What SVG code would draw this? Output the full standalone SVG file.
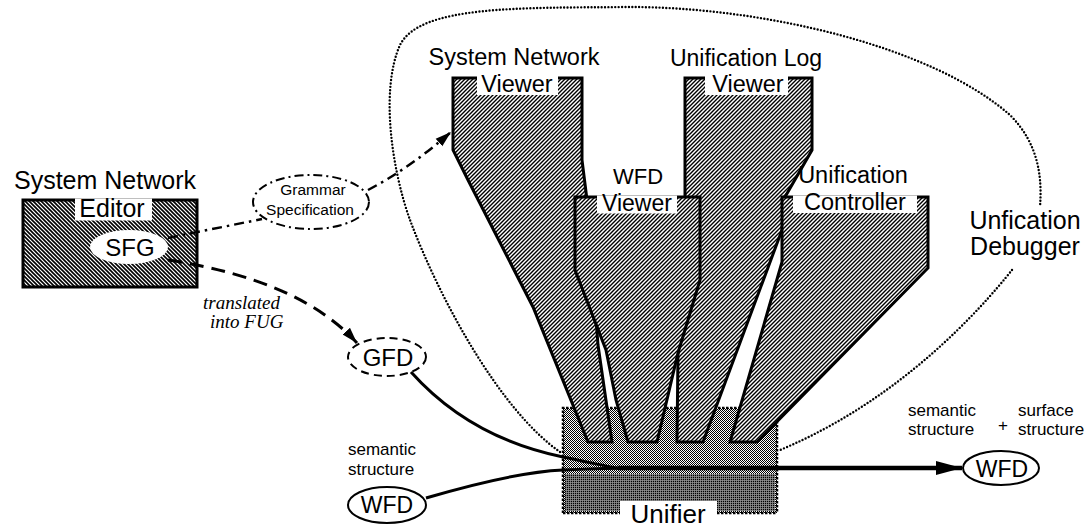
<svg xmlns="http://www.w3.org/2000/svg" width="1090" height="527" viewBox="0 0 1090 527">
<defs>
<style>
.t{font-family:"Liberation Sans",Arial,sans-serif;fill:#000;text-anchor:middle}
.s{font-family:"Liberation Sans",Arial,sans-serif;fill:#000;font-size:17px}
.it{font-family:"Liberation Serif","Times New Roman",serif;font-style:italic;font-size:19px;fill:#000}
.funnel{fill:url(#hatchR);stroke:#000;stroke-width:3;stroke-linejoin:miter}
.lbl{fill:#fff;stroke:none}
.ell{fill:#fff;stroke:#000;stroke-width:2}
</style>
<pattern id="hatchR" width="4" height="4" patternUnits="userSpaceOnUse">
<rect width="4" height="4" fill="#fff"/>
<path d="M0,4 L4,0 M-1,1 L1,-1 M3,5 L5,3" stroke="#000" stroke-width="1.4"/>
</pattern>
<pattern id="hatchL" width="4" height="4" patternUnits="userSpaceOnUse">
<rect width="4" height="4" fill="#fff"/>
<path d="M0,0 L4,4 M-1,3 L1,5 M3,-1 L5,1" stroke="#000" stroke-width="1.6"/>
</pattern>
<pattern id="stipple" width="2" height="2" patternUnits="userSpaceOnUse">
<rect width="2" height="2" fill="#fff"/>
<rect width="1" height="1" fill="#000"/>
<rect x="1" y="1" width="1" height="1" fill="#000"/>
</pattern>
<pattern id="stippleDark" width="2" height="2" patternUnits="userSpaceOnUse">
<rect width="2" height="2" fill="#000"/>
<rect width="1" height="1" fill="#fff"/>
</pattern>
<marker id="arrowBig" markerUnits="userSpaceOnUse" markerWidth="28" markerHeight="16" refX="26" refY="8" orient="auto">
<path d="M0,1 L26,8 L0,15 Z" fill="#000"/>
</marker>
<marker id="arrowSmall" markerUnits="userSpaceOnUse" markerWidth="18" markerHeight="12" refX="16" refY="6" orient="auto">
<path d="M0,1 L16,6 L0,11 Z" fill="#000"/>
</marker>
</defs>
<rect width="1090" height="527" fill="#fff"/>

<g id="debugger-boundary">
<path d="M560,452 C500,410 440,300 410,220 C392,170 380,90 400,45 C420,5 520,8 630,7 C760,7 930,45 1010,115 C1040,145 1042,180 1040,207" fill="none" stroke="#000" stroke-width="2.4" stroke-linecap="round" stroke-dasharray="0 3.4"/>
<path d="M1012,270 C980,310 900,400 780,450" fill="none" stroke="#000" stroke-width="2.4" stroke-linecap="round" stroke-dasharray="0 3.4"/>
<text class="t" x="1025" y="229" font-size="25">Unfication</text>
<text class="t" x="1025" y="255" font-size="25">Debugger</text>
</g>

<g id="unifier">
<rect x="563" y="408" width="214" height="105" fill="url(#stipple)"/>
<rect x="565" y="474" width="210" height="37" fill="url(#stippleDark)" opacity="0.55"/>
<rect x="620" y="501" width="97" height="26" fill="#fff"/>
<path d="M563,513 L563,408 L777,408 L777,513 M563,513 L620,513 M717,513 L777,513" fill="none" stroke="#000" stroke-width="2.5" stroke-dasharray="2.5 1.5"/>
<text class="t" x="668" y="523" font-size="26">Unifier</text>
</g>

<g id="system-network-viewer">
<polygon class="funnel" points="453,78 582,78 582,160 587,200 598,345 612,442 588,442 533,307 468,180 453,150"/>
<rect class="lbl" x="477" y="76" width="81" height="19"/>
<text class="t" x="514" y="65" font-size="23.5">System Network</text>
<text class="t" x="517" y="92" font-size="23.5">Viewer</text>
</g>

<g id="unification-log-viewer">
<polygon class="funnel" points="685,78 812,78 812,150 785,197 782,230 703,442 677,442 678,353 685,270"/>
<rect class="lbl" x="705" y="76" width="83" height="19"/>
<text class="t" x="746" y="66" font-size="23">Unification Log</text>
<text class="t" x="748" y="92" font-size="23.5">Viewer</text>
</g>

<g id="wfd-viewer">
<polygon class="funnel" points="575,197 700,197 700,280 678,353 657,442 628,442 616,400 606,350 575,270"/>
<rect class="lbl" x="597" y="195.5" width="80" height="18"/>
<text class="t" x="638" y="184" font-size="22">WFD</text>
<text class="t" x="637" y="211" font-size="23">Viewer</text>
</g>

<g id="unification-controller">
<polygon class="funnel" points="782,197 928,197 928,268 757,442 730,442 782,262"/>
<rect class="lbl" x="793" y="195.5" width="124" height="17.5"/>
<text class="t" x="853" y="183" font-size="23.5">Unification</text>
<text class="t" x="855" y="210" font-size="23.5">Controller</text>
</g>

<g id="system-network-editor">
<rect x="23" y="200" width="174" height="87" fill="url(#hatchL)" stroke="#000" stroke-width="3"/>
<rect class="lbl" x="75" y="198.5" width="77" height="22"/>
<text class="t" x="105" y="189" font-size="25">System Network</text>
<text class="t" x="112" y="217" font-size="25">Editor</text>
</g>

<g id="sfg">
<ellipse cx="129" cy="247" rx="39" ry="17" fill="#fff"/>
<text class="t" x="130" y="256" font-size="24">SFG</text>
</g>

<g id="grammar-specification">
<ellipse cx="311" cy="202" rx="58" ry="27" fill="#fff" stroke="#000" stroke-width="2" stroke-dasharray="9 4 2 4"/>
<text class="t" x="313" y="195" font-size="15.5">Grammar</text>
<text class="t" x="310" y="215" font-size="15.5">Specification</text>
</g>

<g id="gfd">
<ellipse cx="387" cy="357" rx="39" ry="19" fill="#fff" stroke="#000" stroke-width="2" stroke-dasharray="8 5"/>
<text class="t" x="388" y="366" font-size="24">GFD</text>
</g>

<g id="wfd-input">
<ellipse class="ell" cx="387" cy="505" rx="39" ry="18"/>
<text class="t" x="387" y="513" font-size="23">WFD</text>
</g>

<g id="wfd-output">
<ellipse class="ell" cx="1001" cy="468" rx="38" ry="17"/>
<text class="t" x="1002" y="477" font-size="23">WFD</text>
</g>

<g id="connectors">
<path d="M168,238 L262,219" fill="none" stroke="#000" stroke-width="2.5" stroke-dasharray="10 5 2.5 5"/>
<path d="M368,190 Q410,168 451,132" fill="none" stroke="#000" stroke-width="2.5" stroke-dasharray="10 5 2.5 5" marker-end="url(#arrowSmall)"/>
<path d="M168,260 Q300,280 357,343" fill="none" stroke="#000" stroke-width="3" stroke-dasharray="14 8" marker-end="url(#arrowSmall)"/>
<path d="M411,372 C445,410 495,443 563,457 S610,468 640,468" fill="none" stroke="#000" stroke-width="3"/>
<path d="M426,498 C470,485 520,472 563,470 S610,468 640,468" fill="none" stroke="#000" stroke-width="3"/>
<path d="M618,468 L962,468" fill="none" stroke="#000" stroke-width="4.5" marker-end="url(#arrowBig)"/>
</g>

<g id="labels">
<text class="it" x="203" y="309">translated</text>
<text class="it" x="210" y="328">into FUG</text>
<text class="s" x="348" y="455">semantic</text>
<text class="s" x="348" y="475">structure</text>
<text class="s" x="908" y="416">semantic</text>
<text class="s" x="908" y="435">structure</text>
<text class="s" x="1003" y="431" text-anchor="middle">+</text>
<text class="s" x="1018" y="416">surface</text>
<text class="s" x="1018" y="435">structure</text>
</g>
</svg>
